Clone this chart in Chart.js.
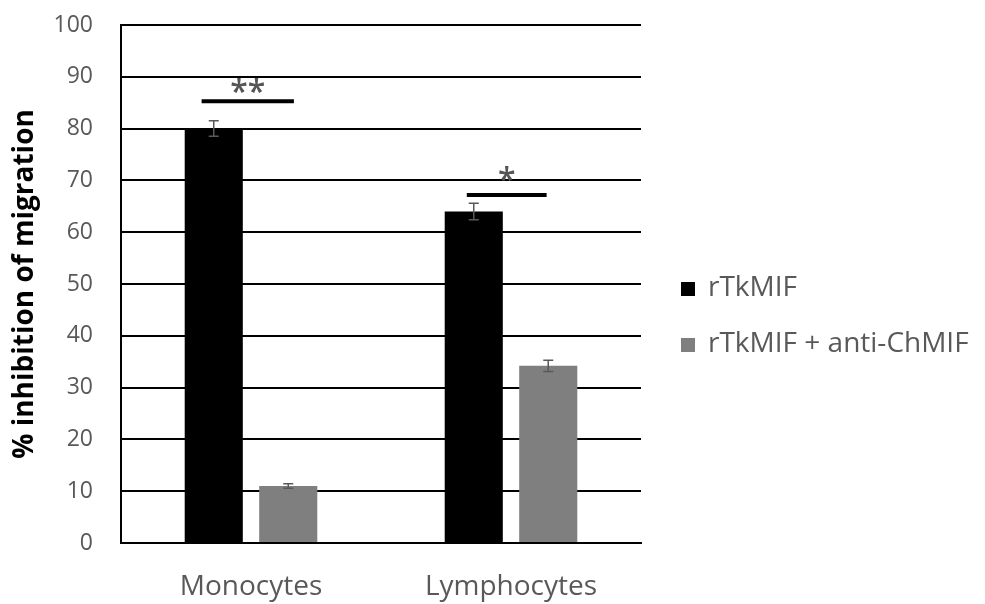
<!DOCTYPE html>
<html>
<head>
<meta charset="utf-8">
<script src="https://cdn.jsdelivr.net/npm/chart.js@4"></script>
<style>
  body { margin: 0; background: #fff; }
  #wrap { width: 985px; height: 604px; position: relative; }
</style>
</head>
<body>
<div id="wrap"><canvas id="myChart"></canvas></div>
<script>
const categories = ["Monocytes", "Lymphocytes"];
const seriesNames = ["rTkMIF", "rTkMIF + anti-ChMIF"];
const rtkmif = [80, 64];
const rtkmifErr = [1.5, 1.6];
const antiChmif = [11, 34.2];
const antiChmifErr = [0.45, 1.1];
const yTicks = [0, 10, 20, 30, 40, 50, 60, 70, 80, 90, 100];

// significance bars: level (y value), label, extent as fraction of category width
const sigLevel = [85.3, 67.2];
const sigLabel = ["**", "*"];
const sigLabelLevel = [85.2, 68.2];
const sigFrom = [-0.19, -0.17];
const sigTo = [0.165, 0.137];

const seriesColors = ["#000000", "#7f7f7f"];
const textGray = "#595959";

Chart.defaults.font.family = "'Open Sans', sans-serif";

const errorBars = {
  id: "errorBars",
  afterDatasetsDraw(chart) {
    const ctx = chart.ctx;
    const y = chart.scales.y;
    const errs = [rtkmifErr, antiChmifErr];
    ctx.save();
    ctx.strokeStyle = textGray;
    ctx.lineWidth = 1.5;
    chart.data.datasets.forEach((ds, d) => {
      chart.getDatasetMeta(d).data.forEach((bar, i) => {
        const top = y.getPixelForValue(ds.data[i] + errs[d][i]);
        const bot = y.getPixelForValue(ds.data[i] - errs[d][i]);
        ctx.beginPath();
        ctx.moveTo(bar.x, top);
        ctx.lineTo(bar.x, bot);
        ctx.moveTo(bar.x - 5, top);
        ctx.lineTo(bar.x + 5, top);
        ctx.moveTo(bar.x - 5, bot);
        ctx.lineTo(bar.x + 5, bot);
        ctx.stroke();
      });
    });
    ctx.restore();
  },
};

const sigMarks = {
  id: "sigMarks",
  afterDatasetsDraw(chart) {
    const ctx = chart.ctx;
    const x = chart.scales.x;
    const y = chart.scales.y;
    const catW = x.width / categories.length;
    ctx.save();
    categories.forEach((c, i) => {
      const cx = x.getPixelForValue(i);
      const x0 = cx + sigFrom[i] * catW;
      const x1 = cx + sigTo[i] * catW;
      const ly = y.getPixelForValue(sigLevel[i]);
      ctx.strokeStyle = "#000";
      ctx.lineWidth = 4;
      ctx.beginPath();
      ctx.moveTo(x0, ly);
      ctx.lineTo(x1, ly);
      ctx.stroke();
      ctx.fillStyle = "#555";
      ctx.font = "600 32px 'Open Sans', sans-serif";
      ctx.textAlign = "center";
      ctx.textBaseline = "alphabetic";
      ctx.fillText(sigLabel[i], (x0 + x1) / 2, y.getPixelForValue(sigLabelLevel[i]) + 1);
    });
    ctx.restore();
  },
};

const sideLegend = {
  id: "sideLegend",
  afterDraw(chart) {
    const ctx = chart.ctx;
    const area = chart.chartArea;
    const mid = (area.top + area.bottom) / 2;
    const lx = area.right + 40;
    ctx.save();
    ctx.font = "28px 'Open Sans', sans-serif";
    ctx.textBaseline = "middle";
    ctx.textAlign = "left";
    seriesNames.forEach((name, i) => {
      const ry = mid + 5 + i * 56;
      ctx.fillStyle = seriesColors[i];
      ctx.fillRect(lx, ry - 7, 14, 14);
      ctx.fillStyle = textGray;
      ctx.fillText(name, lx + 27, ry - 1);
    });
    ctx.restore();
  },
};

const ctx = document.getElementById("myChart").getContext("2d");

const myChart = new Chart(ctx, {
  type: "bar",
  data: {
    labels: categories,
    datasets: [
      {
        label: seriesNames[0],
        data: rtkmif,
        backgroundColor: seriesColors[0],
        categoryPercentage: 0.573,
        barPercentage: 0.78,
      },
      {
        label: seriesNames[1],
        data: antiChmif,
        backgroundColor: seriesColors[1],
        categoryPercentage: 0.573,
        barPercentage: 0.78,
      },
    ],
  },
  options: {
    responsive: true,
    maintainAspectRatio: false,
    animation: false,
    layout: {
      padding: { left: 4, top: 25, right: 344, bottom: 0 },
    },
    plugins: {
      legend: { display: false },
      tooltip: { enabled: false },
    },
    scales: {
      x: {
        grid: { display: false, drawTicks: false },
        border: { display: true, color: "#000", width: 2 },
        ticks: {
          color: textGray,
          font: { size: 28 },
          padding: 27,
        },
        afterFit(scale) {
          scale.height = 61;
        },
      },
      y: {
        min: 0,
        max: 100,
        afterBuildTicks(scale) {
          scale.ticks = yTicks.map((v) => ({ value: v }));
        },
        grid: { color: "#000", lineWidth: 2, drawTicks: false },
        border: { display: true, color: "#000", width: 2 },
        ticks: {
          color: textGray,
          font: { size: 23 },
          padding: 28,
        },
        title: {
          display: true,
          text: "% inhibition of migration",
          color: "#000",
          font: { size: 28, weight: "bold" },
          padding: { top: 4, bottom: 0 },
        },
        afterFit(scale) {
          scale.width = 117;
          scale.paddingTop = 0;
          scale.paddingBottom = 0;
        },
      },
    },
  },
  plugins: [errorBars, sigMarks, sideLegend],
});
</script>
</body>
</html>
